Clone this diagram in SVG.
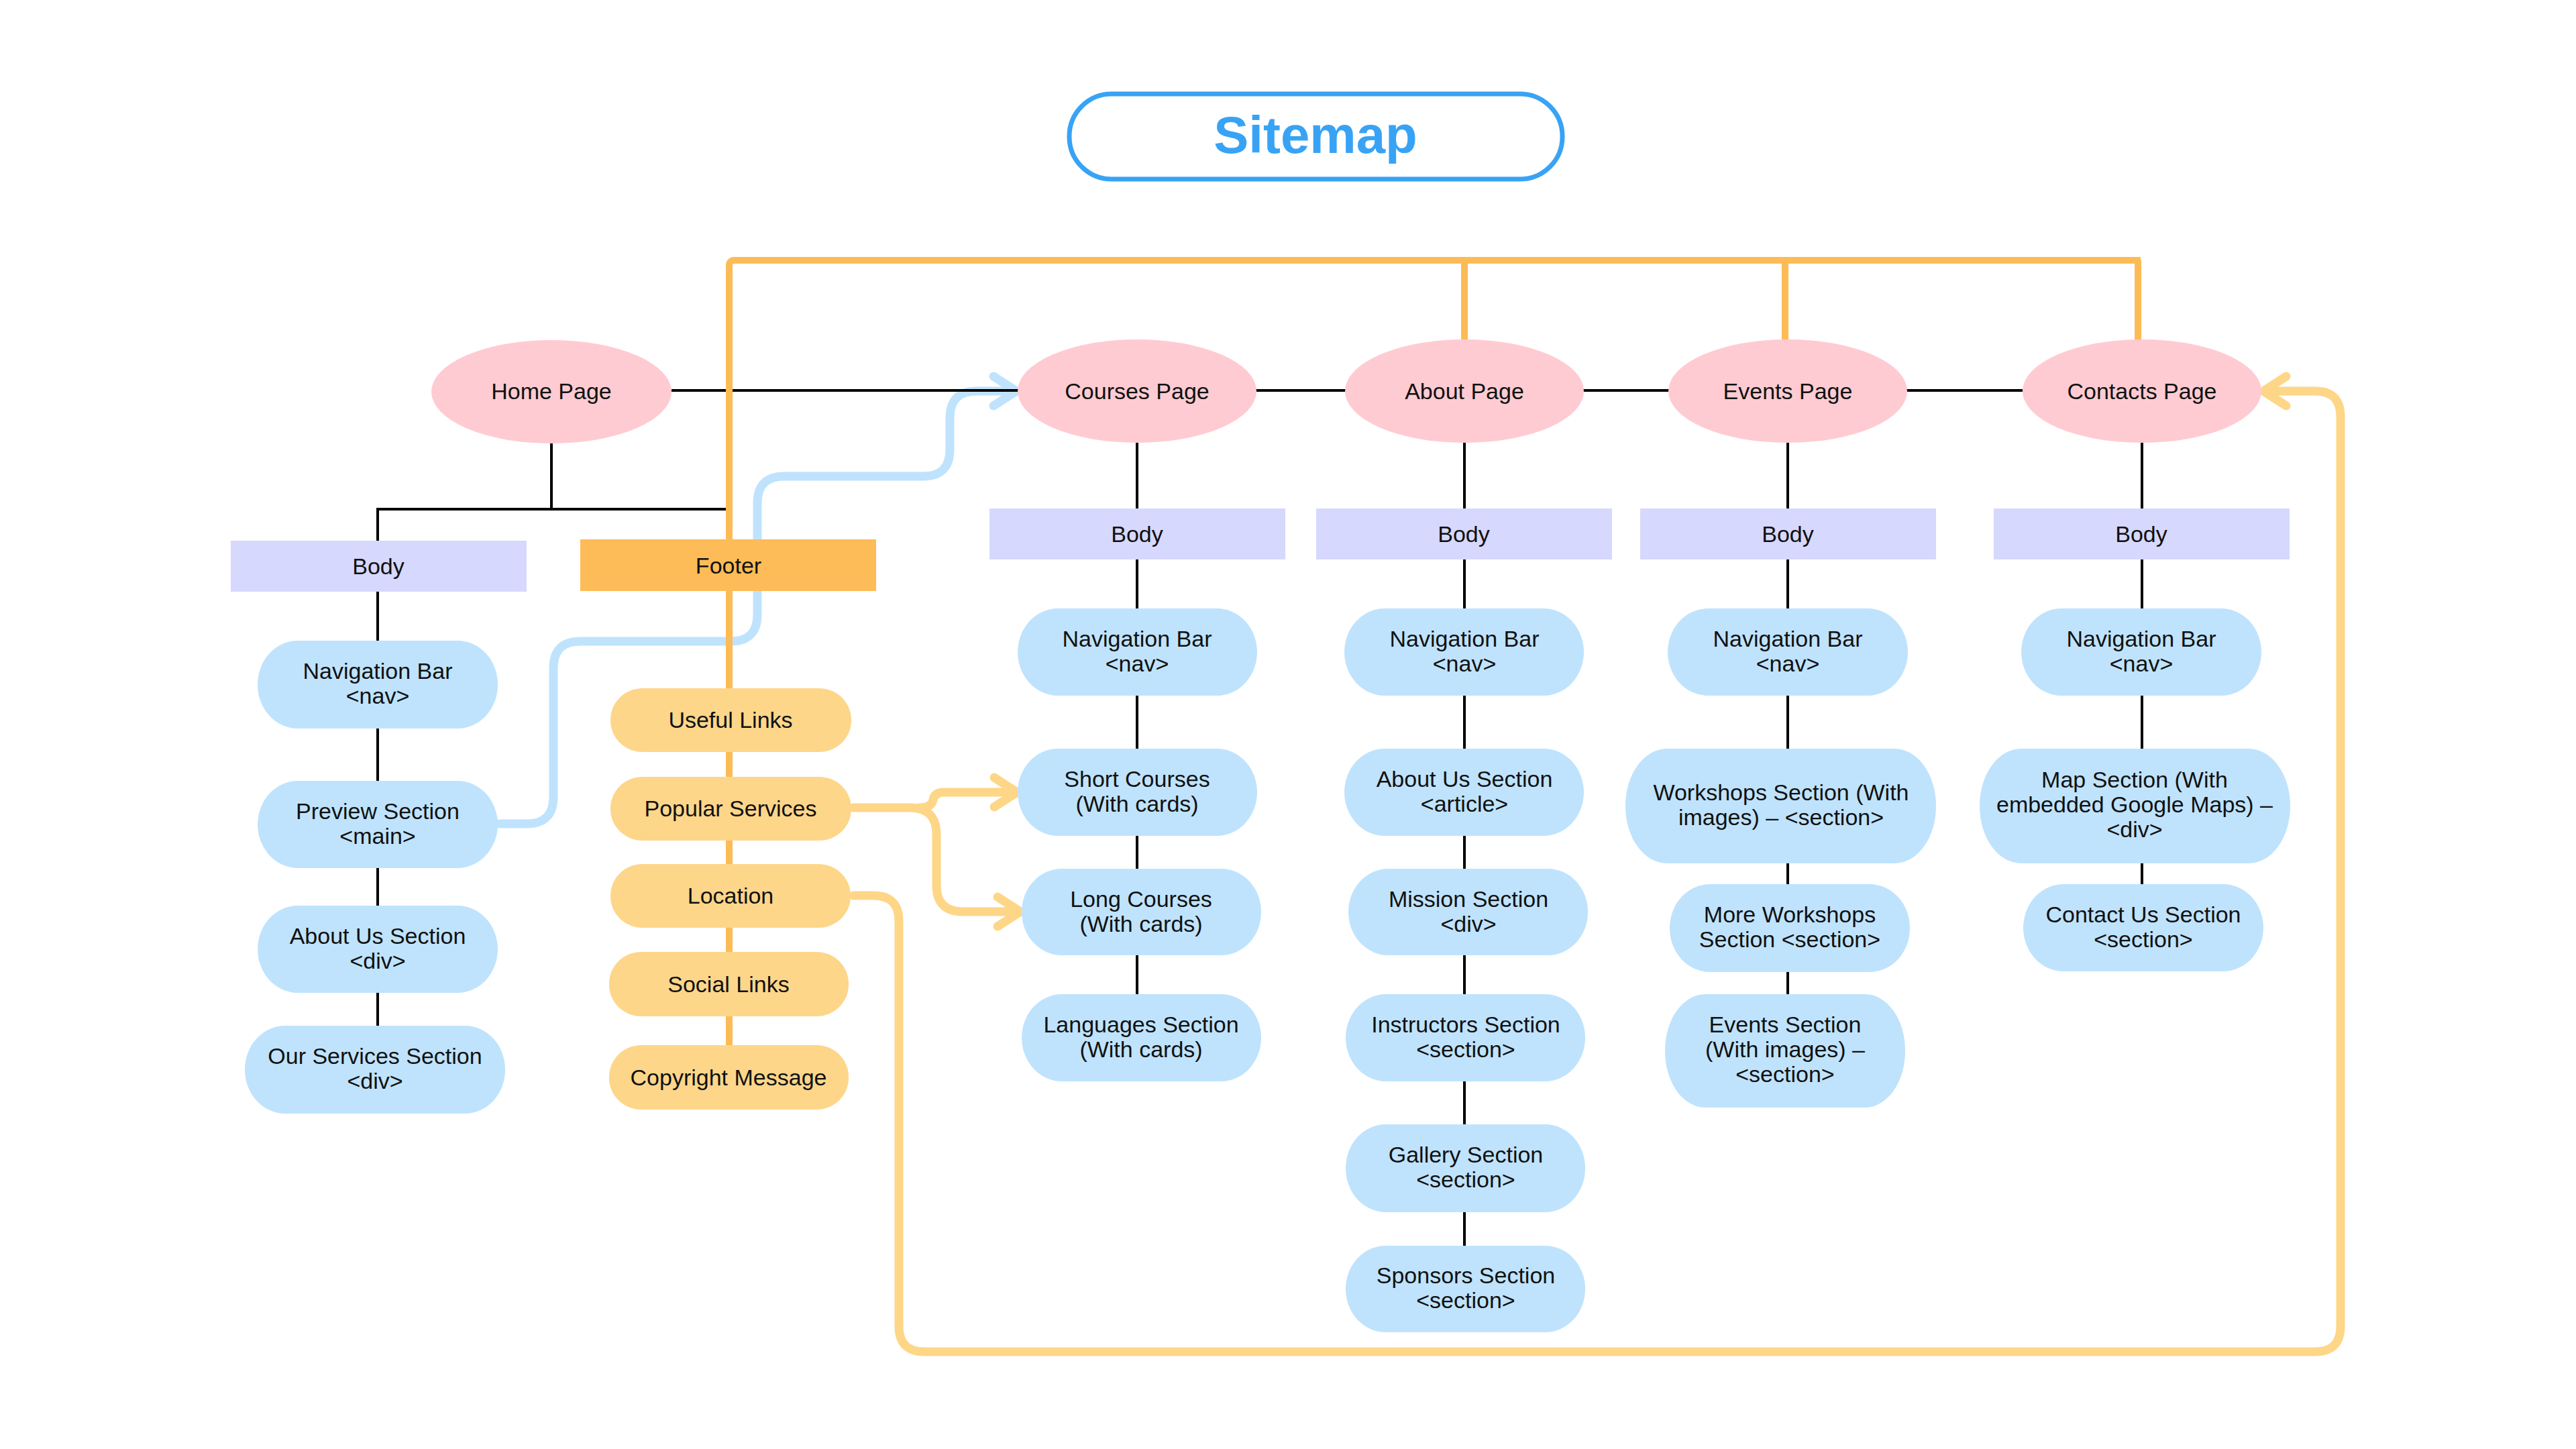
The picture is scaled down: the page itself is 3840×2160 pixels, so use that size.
<svg xmlns="http://www.w3.org/2000/svg" width="3840" height="2160" viewBox="0 0 3840 2160">
<style>
  text { font-family: "Liberation Sans", Arial, sans-serif; font-size: 34px; fill: #111; text-anchor: middle; }
  .title { font-size: 78px; font-weight: bold; fill: #38A3F5; }
  .page { fill: #FFCBD2; }
  .body { fill: #D7D8FD; }
  .footer { fill: #FDBC57; }
  .item { fill: #BFE3FD; }
  .fitem { fill: #FDD68A; }
  .blk { stroke: #000; stroke-width: 4; fill: none; }
  .org { stroke: #FDBB56; stroke-width: 10; fill: none; stroke-linejoin: round; }
  .lorg { stroke: #FED687; stroke-width: 13; fill: none; stroke-linecap: round; stroke-linejoin: round; }
  .lblue { stroke: #BFE3FD; stroke-width: 13; fill: none; stroke-linecap: round; stroke-linejoin: round; }
</style>
<defs>
  <marker id="arrO" markerUnits="userSpaceOnUse" viewBox="-50 -35 60 70" refX="0" refY="0" markerWidth="60" markerHeight="70" orient="auto" overflow="visible">
    <path d="M-34,-22 L0,0 L-34,22" fill="none" stroke="#FED687" stroke-width="13" stroke-linecap="round" stroke-linejoin="round"/>
  </marker>
  <marker id="arrB" markerUnits="userSpaceOnUse" viewBox="-50 -35 60 70" refX="0" refY="0" markerWidth="60" markerHeight="70" orient="auto" overflow="visible">
    <path d="M-34,-22 L0,0 L-34,22" fill="none" stroke="#BFE3FD" stroke-width="13" stroke-linecap="round" stroke-linejoin="round"/>
  </marker>
</defs>
<rect width="3840" height="2160" fill="#fff"/>

<g id="title">
  <rect x="1594" y="140" width="735" height="127" rx="63" ry="63" fill="#fff" stroke="#38A3F5" stroke-width="7"/>
  <text class="title" x="1961" y="228">Sitemap</text>
</g>

<g id="connectors">
  <path class="lblue" d="M745,1228 H785 Q825,1228 825,1188 V996 Q825,956 865,956 H1089 Q1129,956 1129,916 V750 Q1129,710 1169,710 H1376 Q1416,710 1416,670 V623 Q1416,583 1456,583 H1515" marker-end="url(#arrB)"/>
  <g class="blk">
    <line x1="1001" y1="582" x2="3015" y2="582"/>
    <path d="M822,661 V759 M561,759 H1085 M563,757 V806"/>
    <line x1="563" y1="882" x2="563" y2="1529"/>
    <line x1="1695" y1="660" x2="1695" y2="1482"/>
    <line x1="2183" y1="660" x2="2183" y2="1857"/>
    <line x1="2665" y1="660" x2="2665" y2="1482"/>
    <line x1="3193" y1="660" x2="3193" y2="1318"/>
  </g>
  <path class="org" d="M1087,1560 V396 Q1087,388 1095,388 H3191 M3187,388 V508 M2183,388 V508 M2661,388 V508"/>
  <path class="lorg" d="M1272,1204 H1356 Q1396,1204 1396,1244 V1320 Q1396,1359 1436,1359 H1521" marker-end="url(#arrO)"/>
  <path class="lorg" d="M1370,1204 Q1389,1204 1391,1192 Q1393,1181 1408,1181 H1516" marker-end="url(#arrO)"/>
  <path class="lorg" d="M1272,1335 H1302 Q1340,1335 1340,1373 V1977 Q1340,2015 1378,2015 H3451 Q3489,2015 3489,1977 V621 Q3489,583 3451,583 H3374" marker-end="url(#arrO)"/>
</g>

<g id="home-page"><ellipse class="page" cx="822" cy="584" rx="179" ry="77"/><text x="822" y="595">Home Page</text></g>
<g id="courses-page"><ellipse class="page" cx="1695" cy="583" rx="178" ry="77"/><text x="1695" y="595">Courses Page</text></g>
<g id="about-page"><ellipse class="page" cx="2183" cy="583" rx="178" ry="77"/><text x="2183" y="595">About Page</text></g>
<g id="events-page"><ellipse class="page" cx="2665" cy="583" rx="178" ry="77"/><text x="2665" y="595">Events Page</text></g>
<g id="contacts-page"><ellipse class="page" cx="3193" cy="583" rx="178" ry="77"/><text x="3193" y="595">Contacts Page</text></g>

<g id="home-body"><rect class="body" x="344" y="806" width="441" height="76"/><text x="564" y="856">Body</text></g>
<g id="footer"><rect class="footer" x="865" y="804" width="441" height="77"/><text x="1086" y="855">Footer</text></g>
<g id="courses-body"><rect class="body" x="1475" y="758" width="441" height="76"/><text x="1695" y="808">Body</text></g>
<g id="about-body"><rect class="body" x="1962" y="758" width="441" height="76"/><text x="2182" y="808">Body</text></g>
<g id="events-body"><rect class="body" x="2445" y="758" width="441" height="76"/><text x="2665" y="808">Body</text></g>
<g id="contacts-body"><rect class="body" x="2972" y="758" width="441" height="76"/><text x="3192" y="808">Body</text></g>

<g id="home-nav"><rect class="item" x="384" y="955" width="358" height="131" rx="60" ry="65"/><text x="563" y="1012">Navigation Bar</text><text x="563" y="1049">&lt;nav&gt;</text></g>
<g id="home-preview"><rect class="item" x="384" y="1164" width="358" height="130" rx="60" ry="65"/><text x="563" y="1221">Preview Section</text><text x="563" y="1258">&lt;main&gt;</text></g>
<g id="home-about"><rect class="item" x="384" y="1350" width="358" height="130" rx="60" ry="65"/><text x="563" y="1407">About Us Section</text><text x="563" y="1444">&lt;div&gt;</text></g>
<g id="home-services"><rect class="item" x="365" y="1529" width="388" height="131" rx="60" ry="65"/><text x="559" y="1586">Our Services Section</text><text x="559" y="1623">&lt;div&gt;</text></g>

<g id="useful-links"><rect class="fitem" x="910" y="1026" width="359" height="95" rx="48" ry="47"/><text x="1089" y="1085">Useful Links</text></g>
<g id="popular-services"><rect class="fitem" x="910" y="1158" width="359" height="95" rx="48" ry="47"/><text x="1089" y="1217">Popular Services</text></g>
<g id="location"><rect class="fitem" x="910" y="1288" width="358" height="95" rx="48" ry="47"/><text x="1089" y="1347">Location</text></g>
<g id="social-links"><rect class="fitem" x="908" y="1419" width="357" height="96" rx="48" ry="47"/><text x="1086" y="1479">Social Links</text></g>
<g id="copyright"><rect class="fitem" x="908" y="1558" width="357" height="96" rx="48" ry="47"/><text x="1086" y="1618">Copyright Message</text></g>

<g id="courses-nav"><rect class="item" x="1517" y="907" width="357" height="130" rx="60" ry="65"/><text x="1695" y="964">Navigation Bar</text><text x="1695" y="1001">&lt;nav&gt;</text></g>
<g id="short-courses"><rect class="item" x="1517" y="1116" width="357" height="130" rx="60" ry="65"/><text x="1695" y="1173">Short Courses</text><text x="1695" y="1210">(With cards)</text></g>
<g id="long-courses"><rect class="item" x="1523" y="1295" width="357" height="129" rx="60" ry="64"/><text x="1701" y="1352">Long Courses</text><text x="1701" y="1389">(With cards)</text></g>
<g id="languages"><rect class="item" x="1523" y="1482" width="357" height="130" rx="60" ry="65"/><text x="1701" y="1539">Languages Section</text><text x="1701" y="1576">(With cards)</text></g>

<g id="about-nav"><rect class="item" x="2004" y="907" width="357" height="130" rx="60" ry="65"/><text x="2183" y="964">Navigation Bar</text><text x="2183" y="1001">&lt;nav&gt;</text></g>
<g id="about-us"><rect class="item" x="2004" y="1116" width="357" height="130" rx="60" ry="65"/><text x="2183" y="1173">About Us Section</text><text x="2183" y="1210">&lt;article&gt;</text></g>
<g id="mission"><rect class="item" x="2010" y="1295" width="357" height="129" rx="60" ry="64"/><text x="2189" y="1352">Mission Section</text><text x="2189" y="1389">&lt;div&gt;</text></g>
<g id="instructors"><rect class="item" x="2006" y="1482" width="357" height="130" rx="60" ry="65"/><text x="2185" y="1539">Instructors Section</text><text x="2185" y="1576">&lt;section&gt;</text></g>
<g id="gallery"><rect class="item" x="2006" y="1676" width="357" height="131" rx="60" ry="65"/><text x="2185" y="1733">Gallery Section</text><text x="2185" y="1770">&lt;section&gt;</text></g>
<g id="sponsors"><rect class="item" x="2006" y="1857" width="357" height="129" rx="60" ry="64"/><text x="2185" y="1913">Sponsors Section</text><text x="2185" y="1950">&lt;section&gt;</text></g>

<g id="events-nav"><rect class="item" x="2486" y="907" width="358" height="130" rx="60" ry="65"/><text x="2665" y="964">Navigation Bar</text><text x="2665" y="1001">&lt;nav&gt;</text></g>
<g id="workshops"><rect class="item" x="2423" y="1116" width="463" height="171" rx="62" ry="85"/><text x="2655" y="1193">Workshops Section (With</text><text x="2655" y="1230">images) – &lt;section&gt;</text></g>
<g id="more-workshops"><rect class="item" x="2489" y="1318" width="358" height="131" rx="60" ry="65"/><text x="2668" y="1375">More Workshops</text><text x="2668" y="1412">Section &lt;section&gt;</text></g>
<g id="events-section"><rect class="item" x="2482" y="1482" width="358" height="169" rx="60" ry="84"/><text x="2661" y="1539">Events Section</text><text x="2661" y="1576">(With images) –</text><text x="2661" y="1613">&lt;section&gt;</text></g>

<g id="contacts-nav"><rect class="item" x="3013" y="907" width="358" height="130" rx="60" ry="65"/><text x="3192" y="964">Navigation Bar</text><text x="3192" y="1001">&lt;nav&gt;</text></g>
<g id="map-section"><rect class="item" x="2951" y="1116" width="463" height="171" rx="62" ry="85"/><text x="3182" y="1174">Map Section (With</text><text x="3182" y="1211">embedded Google Maps) –</text><text x="3182" y="1248">&lt;div&gt;</text></g>
<g id="contact-us"><rect class="item" x="3016" y="1318" width="358" height="130" rx="60" ry="65"/><text x="3195" y="1375">Contact Us Section</text><text x="3195" y="1412">&lt;section&gt;</text></g>
</svg>
